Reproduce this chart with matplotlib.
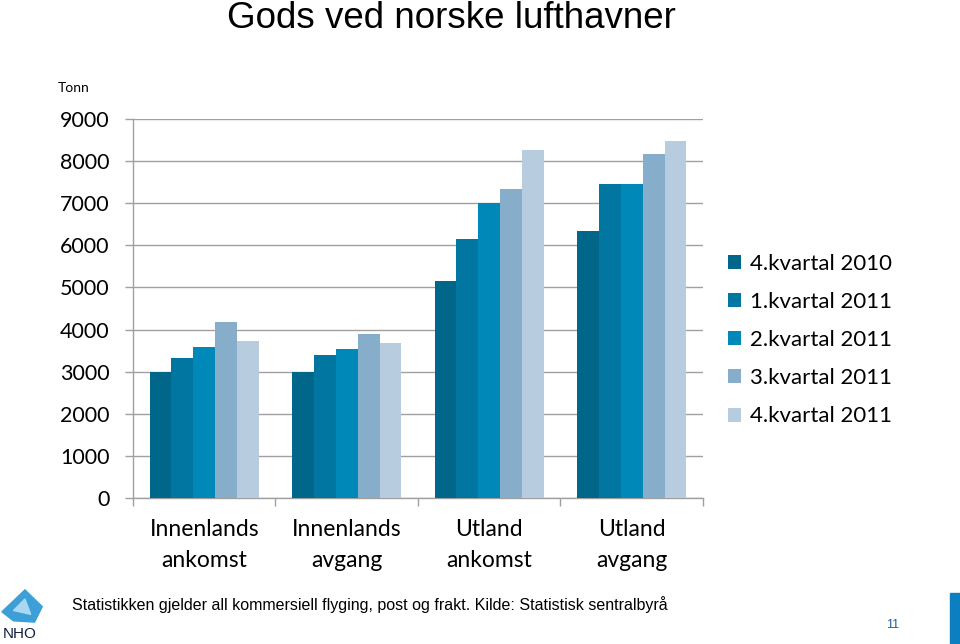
import numpy as np
import matplotlib
matplotlib.use('Agg')
import matplotlib.pyplot as plt
from matplotlib.patches import Polygon, Rectangle

# data (tonn)
categories = ['Innenlands\nankomst', 'Innenlands\navgang', 'Utland\nankomst', 'Utland\navgang']
series = ['4.kvartal 2010', '1.kvartal 2011', '2.kvartal 2011', '3.kvartal 2011', '4.kvartal 2011']
q4_2010 = [2990, 2990, 5160, 6330]
q1_2011 = [3320, 3390, 6140, 7460]
q2_2011 = [3580, 3550, 7000, 7450]
q3_2011 = [4170, 3900, 7330, 8170]
q4_2011 = [3740, 3690, 8270, 8480]
values = [q4_2010, q1_2011, q2_2011, q3_2011, q4_2011]
colors = ['#00668A', '#0076A0', '#0089B8', '#86AECB', '#B7CCDF']
yticks = [0, 1000, 2000, 3000, 4000, 5000, 6000, 7000, 8000, 9000]

fig = plt.figure(figsize=(9.6, 6.44), dpi=100)
ax = fig.add_axes([0.1385, 0.2267, 0.5938, 0.5885])

n = len(series)
w = 0.767 / n
x = np.arange(len(categories))
for i in range(n):
    ax.bar(x - 0.767 / 2 + w * (i + 0.5), values[i], width=w, color=colors[i],
           label=series[i], zorder=3)

ax.set_xlim(-0.5, len(categories) - 0.5)
ax.set_ylim(0, 9000)
ax.set_yticks(yticks)
ax.set_yticklabels([str(v) for v in yticks], fontsize=15.5, family='Lato')
ax.yaxis.grid(True, color='#a0a0a0', linewidth=1, zorder=0)
ax.tick_params(axis='y', length=6, width=1, color='#a0a0a0', pad=11)

# category labels between separator ticks
ax.set_xticks(x)
ax.set_xticklabels(categories, fontsize=16.5, family='Lato', linespacing=1.6)
ax.tick_params(axis='x', length=0, pad=15)
ax.set_xticks(np.arange(len(categories) + 1) - 0.5, minor=True)
ax.tick_params(axis='x', which='minor', length=6, width=1, color='#a0a0a0')

for s in ['top', 'right']:
    ax.spines[s].set_visible(False)
for s in ['left', 'bottom']:
    ax.spines[s].set_color('#a0a0a0')
    ax.spines[s].set_linewidth(1)

leg = ax.legend(loc='center left', bbox_to_anchor=(1.009, 0.417), frameon=False,
                prop={'family': 'Lato', 'size': 16}, handlelength=0.6,
                handleheight=0.6, handletextpad=0.4, labelspacing=0.82)

fig.text(0.47, 0.998, 'Gods ved norske lufthavner', ha='center', va='top',
         fontsize=26.5, family='Liberation Sans')
fig.text(0.06, 0.863, 'Tonn', ha='left', va='center', fontsize=10, family='Lato')
fig.text(0.075, 0.062, 'Statistikken gjelder all kommersiell flyging, post og frakt. '
         'Kilde: Statistisk sentralbyrå', ha='left', va='center', fontsize=11.5,
         family='Liberation Sans')
fig.text(0.93, 0.03, '11', ha='center', va='center', fontsize=9,
         family='Liberation Sans', color='#1f5f9f')

# NHO logo and side bar
fig.patches.append(Polygon([[0.002, 0.05], [0.026, 0.084], [0.044, 0.058], [0.036, 0.034],
                            [0.014, 0.036]],
                           closed=True, transform=fig.transFigure, color='#3d9fd8'))
fig.patches.append(Polygon([[0.014, 0.052], [0.026, 0.07], [0.032, 0.046]],
                           closed=True, transform=fig.transFigure, color='#a8d8f2'))
fig.text(0.021, 0.016, 'NHO', ha='center', va='center', fontsize=11,
         family='Liberation Sans', color='#10203a')
fig.patches.append(Rectangle((0.99, 0.0), 0.01, 0.079, transform=fig.transFigure,
                             color='#0b7fc0'))

fig.savefig('out.png', dpi=100)
